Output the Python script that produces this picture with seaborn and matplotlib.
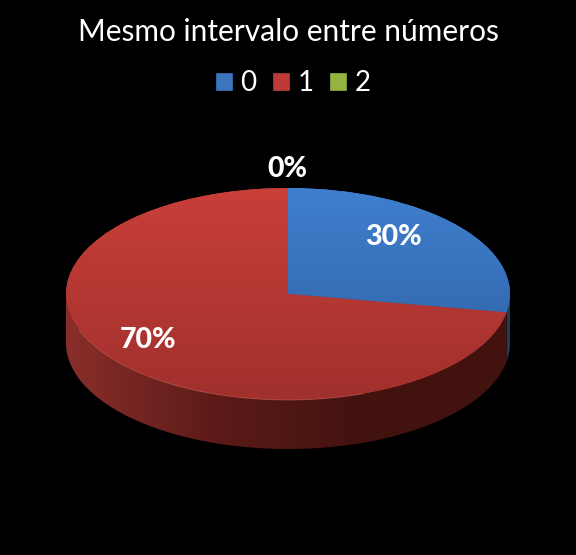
import numpy as np
import matplotlib
matplotlib.use("Agg")
import matplotlib.pyplot as plt
import seaborn as sns
from matplotlib.patches import Patch, Polygon

title = "Mesmo intervalo entre números"
categories = ["0", "1", "2"]
values = [30, 70, 0]

base_colors = ["#3A75BE", "#BE3A36", "#93B43F"]
top_light = ["#3F7FCF", "#C93F3A", "#9BBB59"]
top_dark = ["#2D5F9E", "#A0302C", "#76923C"]
rim_left = ["#2A5585", "#8A2E2A", "#76923C"]
rim_mid = ["#254870", "#5C1B18", "#76923C"]
rim_right = ["#1F3A5C", "#42120F", "#76923C"]

sns.set_theme(style="dark", rc={"figure.facecolor": "black", "axes.facecolor": "black"})
plt.rcParams["font.family"] = ["Lato", "DejaVu Sans"]

W, H = 576, 555
fig = plt.figure(figsize=(W / 100, H / 100), dpi=100)
ax = fig.add_axes([0, 0, 1, 1])

# pie centre and radii in pixels
cx, cy, rx, ry = 288, 294, 222, 106
depth = 49 / ry

wedges, _ = ax.pie(values, colors=base_colors, startangle=90, counterclock=False,
                   radius=1, center=(0, 0), wedgeprops={"linewidth": 0, "edgecolor": "none"})
ax.set_aspect("auto")

# the 3d tilt squeezes the angle of the slice border a bit
tilt = 8
wedges[0].set_theta1(wedges[0].theta1 + tilt)
wedges[1].set_theta2(wedges[1].theta2 + tilt)

# side of the disc, only the part of each slice that faces the viewer
for i, w in enumerate(wedges):
    lo, hi = max(w.theta1, -180), min(w.theta2, 0)
    if values[i] == 0 or hi <= lo:
        continue
    t = np.radians(np.linspace(lo, hi, 200))
    pts = np.r_[np.c_[np.cos(t), np.sin(t)], np.c_[np.cos(t[::-1]), np.sin(t[::-1]) - depth]]
    rim = Polygon(pts, closed=True, facecolor="none", edgecolor="none")
    ax.add_patch(rim)
    cmap = sns.blend_palette([rim_left[i], rim_mid[i], rim_right[i], rim_right[i]], as_cmap=True)
    im = ax.imshow(np.linspace(0, 1, 256).reshape(1, -1), cmap=cmap, aspect="auto",
                   extent=(-1, 1, -1 - depth, 0), zorder=1)
    im.set_clip_path(rim)

# top face, vertical shading
for i, w in enumerate(wedges):
    if values[i] == 0:
        continue
    cmap = sns.blend_palette([top_dark[i], top_light[i]], as_cmap=True)
    im = ax.imshow(np.linspace(0, 1, 256).reshape(-1, 1), cmap=cmap, aspect="auto", origin="lower",
                   extent=(-1, 1, -1, 1), zorder=2)
    im.set_clip_path(w)

# thin light edge along the front of the disc
t = np.radians(np.linspace(-160, -70, 200))
ax.plot(np.cos(t), np.sin(t), color="#D9706A", lw=0.6, alpha=0.5, zorder=3)

ax.set_xlim(-cx / rx, (W - cx) / rx)
ax.set_ylim((cy - H) / ry, cy / ry)
ax.axis("off")

ax.text(288 / W, 1 - 32 / H, title, transform=ax.transAxes, color="white", fontsize=21.5,
        ha="center", va="center")

label_pos = [(393, 237), (148, 340), (287, 169)]
for v, (px, py) in zip(values, label_pos):
    ax.text(px / W, 1 - py / H, f"{v}%", transform=ax.transAxes, color="white",
            fontsize=20.5, fontweight="black", ha="center", va="center", zorder=5)

handles = [Patch(facecolor=c, edgecolor=c, linewidth=0.5) for c in base_colors]
ax.legend(handles, categories, ncol=3, loc="center", bbox_to_anchor=(293 / W, 1 - 83 / H),
          bbox_transform=ax.transAxes, frameon=False, labelcolor="white", fontsize=20,
          handlelength=0.58, handleheight=0.58, handletextpad=0.3, columnspacing=0.6,
          borderpad=0, borderaxespad=0)

fig.savefig("out.png", dpi=100, facecolor="black")
